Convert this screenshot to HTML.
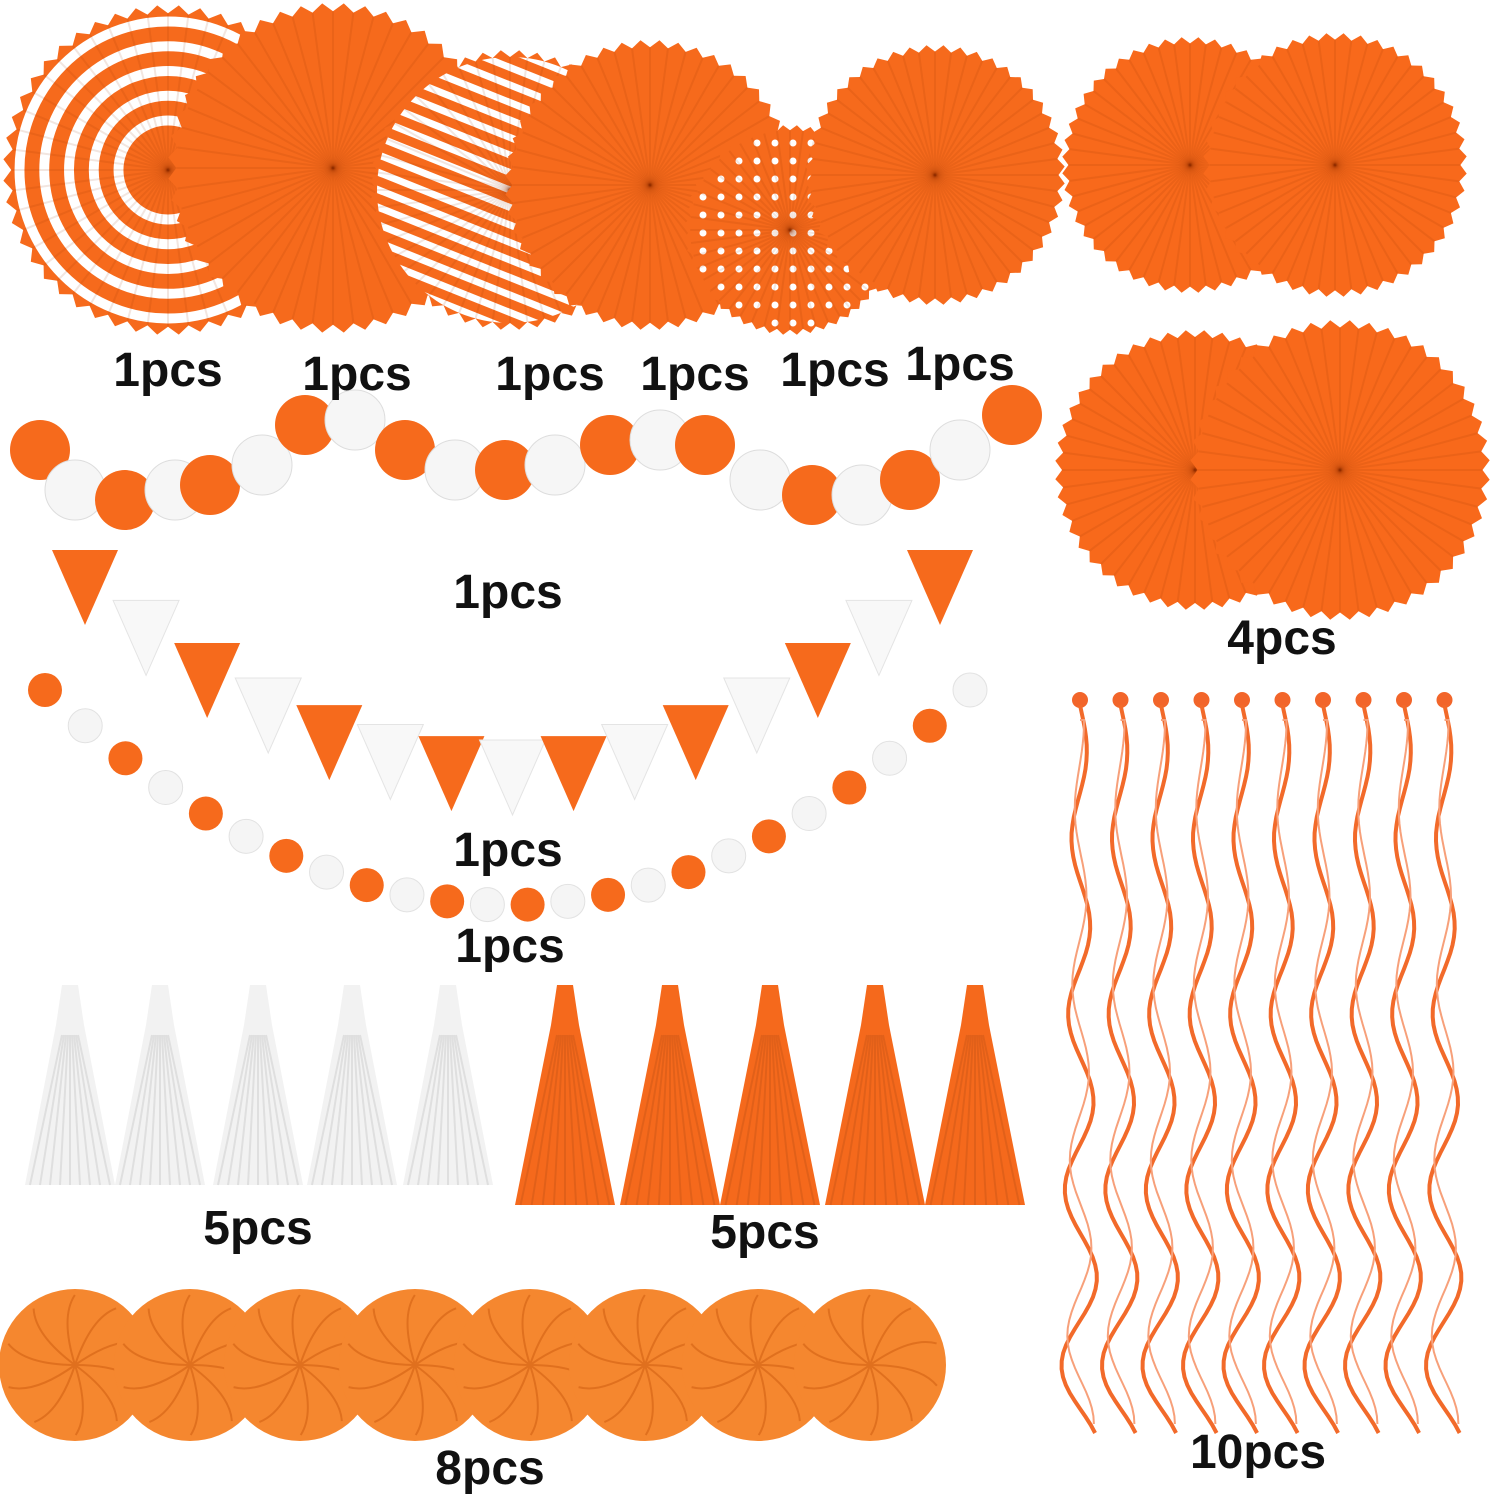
<!DOCTYPE html>
<html><head><meta charset="utf-8"><style>
body{margin:0;width:1500px;height:1500px;background:#fff;overflow:hidden;position:relative;font-family:"Liberation Sans",sans-serif}
svg{position:absolute;left:0;top:0}
.l{position:absolute;font-weight:bold;font-size:48px;color:#111;transform:translateX(-50%);white-space:nowrap;letter-spacing:0px}
</style></head><body>
<svg id="s" width="1500" height="1500" viewBox="0 0 1500 1500"></svg>
<div class="l" style="left:168px;top:343px">1pcs</div>
<div class="l" style="left:357px;top:347px">1pcs</div>
<div class="l" style="left:550px;top:347px">1pcs</div>
<div class="l" style="left:695px;top:347px">1pcs</div>
<div class="l" style="left:835px;top:343px">1pcs</div>
<div class="l" style="left:960px;top:337px">1pcs</div>
<div class="l" style="left:1282px;top:611px">4pcs</div>
<div class="l" style="left:508px;top:565px">1pcs</div>
<div class="l" style="left:508px;top:823px">1pcs</div>
<div class="l" style="left:510px;top:919px">1pcs</div>
<div class="l" style="left:258px;top:1201px">5pcs</div>
<div class="l" style="left:765px;top:1205px">5pcs</div>
<div class="l" style="left:490px;top:1441px">8pcs</div>
<div class="l" style="left:1258px;top:1425px">10pcs</div>
<script>
const s=document.getElementById('s');let h='';
const O='#f66a1c';
function fan(cx,cy,r,type,fill){
  let n=48,p=[];
  for(let i=0;i<n*2;i++){let a=i*Math.PI/n,rr=i%2?r:r*0.95;p.push((cx+rr*Math.cos(a)).toFixed(1)+','+(cy+rr*Math.sin(a)).toFixed(1));}
  h+=`<polygon points="${p.join(' ')}" fill="${fill||O}"/>`;
  if(type=='ring'){for(let k=0;k<6;k++){let rr=r*0.9-k*r*0.15;if(rr<r*0.2)break;h+=`<circle cx="${cx}" cy="${cy}" r="${rr}" fill="none" stroke="#fff" stroke-width="${r*0.06}"/>`;}}
  if(type=='stripe'){for(let k=-8;k<=8;k++){h+=`<line x1="${cx-r}" y1="${cy+k*r/8-r*0.4}" x2="${cx+r}" y2="${cy+k*r/8+r*0.4}" stroke="#fff" stroke-width="${r*0.05}" clip-path="url(#c${Math.round(cx)})"/>`;}
    h+=`<clipPath id="c${Math.round(cx)}"><circle cx="${cx}" cy="${cy}" r="${r*0.95}"/></clipPath>`;}
  if(type=='dot'){for(let x=-r;x<=r;x+=18)for(let y=-r;y<=r;y+=18){if(x*x+y*y<r*r*0.85)h+=`<circle cx="${cx+x}" cy="${cy+y}" r="3.5" fill="#fff"/>`;}}
  for(let i=0;i<n;i++){let a=i*2*Math.PI/n;h+=`<line x1="${cx}" y1="${cy}" x2="${cx+r*0.95*Math.cos(a)}" y2="${cy+r*0.95*Math.sin(a)}" stroke="rgba(150,50,0,0.12)" stroke-width="2"/>`;}
}
fan(168,170,165,'ring');
fan(333,168,165,'');
fan(510,190,140,'stripe');
fan(650,185,145,'');
fan(790,230,105,'dot');
fan(935,175,130,'');
fan(1190,165,128,'','#f8691b');fan(1335,165,132,'','#f8691b');
fan(1195,470,140,'','#f8691b');fan(1340,470,150,'','#f8691b');
let bx=[40,75,125,175,210,262,305,355,405,455,505,555,610,660,705,760,812,862,910,960,1012];
let by=[450,490,500,490,485,465,425,420,450,470,470,465,445,440,445,480,495,495,480,450,415];
bx.forEach((x,i)=>{h+=`<circle cx="${x}" cy="${by[i]}" r="30" fill="${i%2?'#f6f6f6':O}" stroke="${i%2?'#ddd':'none'}"/>`;});
function curve(t,x0,x1,ytop,ybot){let x=x0+(x1-x0)*t;let y=ytop+(ybot-ytop)*(1-Math.pow(2*t-1,2));return [x,y];}
for(let i=0;i<15;i++){let t=i/14;let [x,y]=curve(t,85,940,570,760);let c=i%2?'#f8f8f8':O;h+=`<polygon points="${x-33},${y-20} ${x+33},${y-20} ${x},${y+55}" fill="${c}" stroke="${i%2?'#e4e4e4':'none'}"/>`;}
for(let i=0;i<24;i++){let t=i/23;let [x,y]=curve(t,45,970,690,905);h+=`<circle cx="${x}" cy="${y}" r="17" fill="${i%2?'#f5f5f5':O}" stroke="${i%2?'#e2e2e2':'none'}"/>`;}
function tassel(x,top,bot,c,w){h+=`<path d="M${x-8},${top} L${x+8},${top} L${x+14},${top+40} L${x+w/2},${bot} L${x-w/2},${bot} L${x-14},${top+40}Z" fill="${c}"/>`;
 for(let k=-4;k<=4;k++)h+=`<line x1="${x+k*2}" y1="${top+50}" x2="${x+k*w/9}" y2="${bot}" stroke="rgba(0,0,0,0.08)" stroke-width="2"/>`;}
[70,160,258,352,448].forEach(x=>tassel(x,985,1185,'#f2f2f2',90));
[565,670,770,875,975].forEach(x=>tassel(x,985,1205,'#f5691c',100));
[75,190,300,415,530,645,758,870].forEach(x=>{h+=`<circle cx="${x}" cy="${1365}" r="76" fill="#f5872f"/>`;for(let k=0;k<10;k++){let a=k*0.63;h+=`<path d="M${x},1365 Q${x+50*Math.cos(a)},${1365+50*Math.sin(a)} ${x+70*Math.cos(a+0.3)},${1365+70*Math.sin(a+0.3)}" stroke="#e0701e" stroke-width="2" fill="none"/>`;}});
for(let i=0;i<10;i++){let x=1080+i*40.5;h+=`<circle cx="${x}" cy="700" r="8" fill="#f2652a"/>`;let d=`M${x},705`;for(let y=705;y<1440;y+=8){let amp=6+(y-705)/735*14;d+=` L${(x+amp*Math.sin((y-705)/28)).toFixed(1)},${y}`;}h+=`<path d="${d}" stroke="#f26a2a" stroke-width="4" fill="none"/>`;
 let d2=`M${x},720`;for(let y=720;y<1430;y+=8){let amp=4+(y-720)/710*10;d2+=` L${(x+amp*Math.sin((y-720)/28+1.6)).toFixed(1)},${y}`;}h+=`<path d="${d2}" stroke="#f7a07a" stroke-width="2" fill="none"/>`;}
s.innerHTML=h;
</script>
</body></html>
